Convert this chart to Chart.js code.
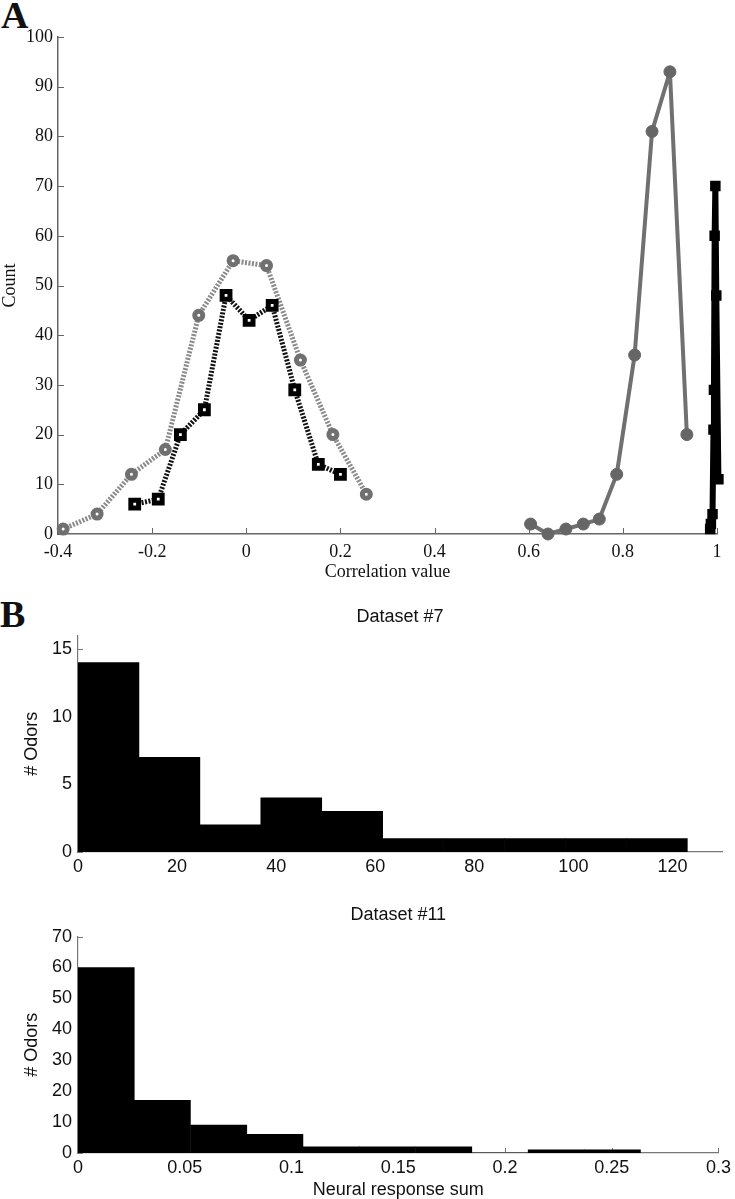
<!DOCTYPE html>
<html>
<head>
<meta charset="utf-8">
<script src="https://cdn.jsdelivr.net/npm/chart.js@4"></script>
<style>
  body { margin: 0; background: #fff; }
  canvas { position: absolute; left: 0; }
  .panel { position: absolute; font: bold 38px "Liberation Serif", serif; color: #111; line-height: 1; }
</style>
</head>
<body>
<div class="panel" style="left:1px; top:-4px;">A</div>
<div class="panel" style="left:0px; top:595px;">B</div>
<canvas id="corrChart" width="735" height="590" style="top:0"></canvas>
<canvas id="hist7Chart" width="735" height="290" style="top:590px"></canvas>
<canvas id="hist11Chart" width="735" height="319" style="top:880px"></canvas>
<script>
// Panel A: correlation histograms (bin centre, count)
const grayDotX = [-0.389, -0.317, -0.244, -0.172, -0.101, -0.028, 0.043, 0.115, 0.184, 0.255];
const grayDotY = [1, 4, 12, 17, 44, 55, 54, 35, 20, 8];
const blackDotX = [-0.237, -0.187, -0.140, -0.089, -0.043, 0.006, 0.055, 0.103, 0.153, 0.200];
const blackDotY = [6, 7, 20, 25, 48, 43, 46, 29, 14, 12];
const graySolidX = [0.604, 0.641, 0.679, 0.716, 0.750, 0.787, 0.825, 0.862, 0.900, 0.936];
const graySolidY = [2, 0, 1, 2, 3, 12, 36, 81, 93, 20];
const blackSolidX = [0.9855, 0.987, 0.9905, 0.9925, 0.9935, 0.995, 0.9965, 0.9985, 1.003];
const blackSolidY = [1, 2, 4, 21, 29, 60, 70, 48, 11];
const corrTicksX = [-0.4, -0.2, 0, 0.2, 0.4, 0.6, 0.8, 1];

// Panel B: histograms of neural response sums
const hist7Centers = [6.15, 18.45, 30.75, 43.05, 55.35, 67.65, 79.95, 92.25, 104.55, 116.85];
const hist7Counts = [14, 7, 2, 4, 3, 1, 1, 1, 1, 1];
const hist11Centers = [0.0132, 0.0395, 0.0659, 0.0922, 0.1186, 0.1449, 0.1713, 0.1976, 0.2240, 0.2503];
const hist11Counts = [60, 17, 9, 6, 2, 2, 2, 0, 1, 1];

const pts = (xs, ys) => xs.map((x, i) => ({ x: x, y: ys[i] }));

// MATLAB style ticks pointing into the plot
const inwardTicks = {
  id: "inwardTicks",
  beforeDatasetsDraw(chart, args, opts) {
    const ctx = chart.ctx, a = chart.chartArea;
    const sx = chart.scales.x, sy = chart.scales.y;
    ctx.save();
    ctx.strokeStyle = opts.color || "#666";
    ctx.lineWidth = 1;
    sx.ticks.forEach(t => {
      const px = Math.round(sx.getPixelForValue(t.value)) + 0.5;
      ctx.beginPath(); ctx.moveTo(px, a.bottom); ctx.lineTo(px, a.bottom - opts.len); ctx.stroke();
    });
    sy.ticks.forEach(t => {
      const py = Math.round(sy.getPixelForValue(t.value)) + 0.5;
      ctx.beginPath(); ctx.moveTo(a.left, py); ctx.lineTo(a.left + opts.len, py); ctx.stroke();
    });
    ctx.restore();
  }
};

Chart.defaults.animation = false;
Chart.defaults.color = "#111";

const serif = { family: "'Liberation Serif', serif", size: 18 };
const sans = { family: "'Liberation Sans', Arial, sans-serif", size: 18 };

new Chart(document.getElementById("corrChart"), {
  type: "line",
  data: {
    datasets: [
      {
        data: pts(blackDotX, blackDotY),
        borderColor: "#111", borderWidth: 5, borderDash: [2, 1.5], borderJoinStyle: "round",
        pointStyle: "rect", pointRadius: 5.5, pointBorderWidth: 5,
        pointBorderColor: "#000", pointBackgroundColor: "#fff", clip: false
      },
      {
        data: pts(grayDotX, grayDotY),
        borderColor: "#8a8a8a", borderWidth: 5, borderDash: [2, 1.5], borderJoinStyle: "round",
        pointStyle: "circle", pointRadius: 4, pointBorderWidth: 5,
        pointBorderColor: "#707070", pointBackgroundColor: "#fff", clip: false
      },
      {
        data: pts(blackSolidX, blackSolidY),
        borderColor: "#000", borderWidth: 6, borderJoinStyle: "round",
        pointStyle: "rect", pointRadius: 6, pointBorderWidth: 2,
        pointBorderColor: "#000", pointBackgroundColor: "#000", clip: false
      },
      {
        data: pts(graySolidX, graySolidY),
        borderColor: "#707070", borderWidth: 4, borderJoinStyle: "round",
        pointStyle: "circle", pointRadius: 6, pointBorderWidth: 1,
        pointBorderColor: "#666", pointBackgroundColor: "#666", clip: false
      }
    ]
  },
  options: {
    responsive: false,
    layout: { padding: { top: 37, right: 18, left: 0, bottom: 0 } },
    plugins: { legend: { display: false }, tooltip: { enabled: false }, inwardTicks: { len: 6, color: "#666" } },
    scales: {
      x: {
        type: "linear", min: -0.4, max: 1,
        afterBuildTicks: s => { s.ticks = corrTicksX.map(v => ({ value: v })); },
        afterFit: s => { s.height = 56; },
        grid: { display: false, drawTicks: false },
        border: { display: true, color: "#666", width: 1.5 },
        ticks: { font: serif, padding: 7, callback: v => String(+v.toFixed(2)) },
        title: { display: true, text: "Correlation value", font: serif, padding: { top: 0, bottom: 7 } }
      },
      y: {
        min: 0, max: 100,
        afterFit: s => { s.width = 58; },
        grid: { display: false, drawTicks: false },
        border: { display: true, color: "#666", width: 1.5 },
        ticks: { font: serif, padding: 5, stepSize: 10 },
        title: { display: true, text: "Count", font: { ...serif, lineHeight: 1 }, padding: { top: 1, bottom: 0 } }
      }
    }
  },
  plugins: [inwardTicks]
});

function histChart(id, centers, counts, opt) {
  return new Chart(document.getElementById(id), {
    type: "bar",
    data: {
      datasets: [{
        data: pts(centers, counts),
        backgroundColor: "#000", borderWidth: 0,
        barPercentage: 1, categoryPercentage: 1
      }]
    },
    options: {
      responsive: false,
      layout: { padding: { top: 0, right: opt.right, left: 0, bottom: 0 } },
      plugins: {
        legend: { display: false }, tooltip: { enabled: false },
        inwardTicks: { len: 5, color: "#777" },
        title: {
          display: true, text: opt.title, fullSize: false, color: "#111",
          font: { ...sans, weight: "normal" }, padding: opt.titlePad
        }
      },
      scales: {
        x: {
          type: "linear", min: 0, max: opt.xMax, offset: false,
          afterFit: s => { s.height = opt.xHeight; },
          grid: { display: false, drawTicks: false },
          border: { display: true, color: "#777", width: 1.2 },
          ticks: { font: sans, padding: 4, stepSize: opt.xStep, includeBounds: false, callback: v => String(+v.toFixed(3)) },
          title: { display: !!opt.xTitle, text: opt.xTitle || "", font: { ...sans, lineHeight: 1 }, padding: { top: 0, bottom: 0 } }
        },
        y: {
          min: 0, max: opt.yMax,
          afterFit: s => { s.width = 78; },
          grid: { display: false, drawTicks: false },
          border: { display: true, color: "#777", width: 1.2 },
          ticks: { font: sans, padding: 6, stepSize: opt.yStep, includeBounds: false },
          title: { display: true, text: "# Odors", font: { ...sans, lineHeight: 1 }, padding: { top: 23, bottom: 0 } }
        }
      }
    },
    plugins: [inwardTicks]
  });
}

histChart("hist7Chart", hist7Centers, hist7Counts, {
  title: "Dataset #7", titlePad: { top: 16, bottom: 8 },
  xMax: 130, xStep: 20, yMax: 16, yStep: 5, right: 13, xHeight: 28
});

histChart("hist11Chart", hist11Centers, hist11Counts, {
  title: "Dataset #11", titlePad: { top: 24, bottom: 11 },
  xMax: 0.3, xStep: 0.05, yMax: 70, yStep: 10, right: 15, xHeight: 46,
  xTitle: "Neural response sum"
});
</script>
</body>
</html>
